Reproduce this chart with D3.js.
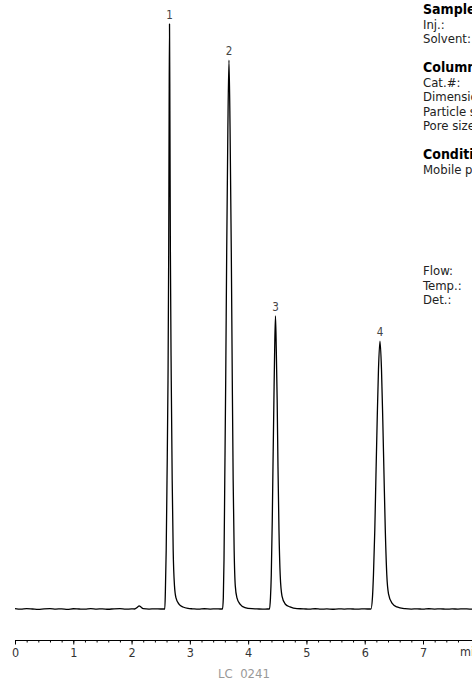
<!DOCTYPE html>
<html>
<head>
<meta charset="utf-8">
<script src="https://cdn.jsdelivr.net/npm/d3@7"></script>
<style>
  body { margin: 0; background: #fff; }
  svg { display: block; }
  text { font-family: "DejaVu Sans Condensed", "Liberation Sans Narrow", sans-serif; }
</style>
</head>
<body>
<script>
// trace: retention time (min) and detector signal (% of peak 1)
const timeMin = [
  0, 0.1, 0.2, 0.3, 0.4, 0.5, 0.6, 0.7, 0.8, 0.9, 1.0, 1.1, 1.2, 1.3, 1.4, 1.5, 1.6, 1.7, 1.8, 1.9, 2.0,
  2.05, 2.1, 2.13, 2.16, 2.2, 2.3, 2.4, 2.5, 2.55,
  2.570, 2.580, 2.594, 2.608, 2.625, 2.637, 2.644, 2.651, 2.658, 2.666, 2.681, 2.697, 2.714, 2.736, 2.762, 2.813, 2.882, 2.968,
  3.05, 3.15, 3.25, 3.35, 3.45, 3.52,
  3.560, 3.574, 3.586, 3.599, 3.615, 3.632, 3.652, 3.671, 3.690, 3.711, 3.728, 3.743, 3.760, 3.779, 3.808, 3.860, 3.945, 4.066,
  4.15, 4.25, 4.33,
  4.366, 4.383, 4.397, 4.414, 4.426, 4.442, 4.455, 4.469, 4.483, 4.498, 4.512, 4.529, 4.550, 4.581, 4.632, 4.718, 4.838,
  4.95, 5.05, 5.15, 5.25, 5.35, 5.45, 5.55, 5.65, 5.75, 5.85, 5.95, 6.05,
  6.107, 6.133, 6.150, 6.173, 6.193, 6.214, 6.236, 6.262, 6.288, 6.310, 6.331, 6.353, 6.379, 6.408, 6.468, 6.553, 6.691,
  6.8, 6.9, 7.0, 7.1, 7.2, 7.3, 7.4, 7.5, 7.6, 7.7, 7.8, 7.9
];
const signal = [
  0.06, -0.03, 0.05, 0, -0.06, 0.03, 0.07, -0.02, 0.03, -0.05, 0.04, 0, -0.03, 0.06, -0.01, 0.02, -0.04, 0.03, 0.05, -0.03, 0.01,
  0, 0.3, 0.55, 0.35, 0.05, -0.02, 0.03, 0, 0,
  0, 3, 10, 22, 39, 61, 83.6, 100, 83.6, 61, 39, 22, 10, 4, 1.9, 0.85, 0.35, 0.1,
  0.03, -0.03, 0.04, -0.01, 0.03, 0,
  0, 1.9, 8.4, 22, 39, 61, 81.9, 93.8, 81.9, 61, 39, 22, 10, 4, 1.9, 0.85, 0.25, 0.05,
  0.02, -0.03, 0,
  0, 1.9, 5.8, 15.2, 24.3, 35.7, 44.3, 50.1, 44.3, 35.7, 24.3, 13.5, 5.8, 2.2, 0.9, 0.35, 0.05,
  0.03, -0.03, 0.04, -0.02, 0.01, -0.04, 0.03, -0.01, 0.03, -0.03, 0.02, 0,
  0, 2, 5.8, 13.5, 22.9, 32.3, 40.9, 45.8, 40.9, 32.3, 22.9, 13.5, 5.8, 2.6, 1.0, 0.35, 0.05,
  -0.02, 0.03, -0.03, 0.04, -0.01, 0.03, -0.03, 0.02, -0.02, 0.03, -0.01, 0.01
];

const peakNames = ["1", "2", "3", "4"];
const peakTimes = [2.651, 3.671, 4.469, 6.262];
const peakHeights = [100, 93.8, 50.1, 45.8];

const xTicks = [0, 1, 2, 3, 4, 5, 6, 7];
const xUnit = "min";
const chartCode = "LC  0241";

// right-hand info block (runs off the edge of the page, as in the original)
const sampleLines = ["Inj.:", "Solvent:"];
const columnLines = ["Cat.#:", "Dimensions:", "Particle size:", "Pore size:"];
const conditionLines = ["Mobile phase:", "", "", "", "", "", ""];
const detectorLines = ["Flow:", "Temp.:", "Det.:"];

const width = 472, height = 684;

const x = d3.scaleLinear().domain([0, 7]).range([15, 423]);
const y = d3.scaleLinear().domain([0, 100]).range([609, 24]);

const svg = d3.select("body").append("svg")
    .attr("width", width)
    .attr("height", height);

// the trace
const trace = timeMin.map((t, i) => [t, signal[i]]);
const line = d3.line()
    .x(d => x(d[0]))
    .y(d => y(d[1]))
    .curve(d3.curveMonotoneX);

svg.append("path")
    .datum(trace)
    .attr("fill", "none")
    .attr("stroke", "#000")
    .attr("stroke-width", 1.3)
    .attr("stroke-linejoin", "round")
    .attr("d", line);

// peak numbers
svg.selectAll(".peak-label")
    .data(peakNames)
  .enter().append("text")
    .attr("class", "peak-label")
    .attr("x", (d, i) => x(peakTimes[i]))
    .attr("y", (d, i) => y(peakHeights[i]) - 5)
    .attr("text-anchor", "middle")
    .attr("font-size", 11.5)
    .attr("fill", "#444")
    .text(d => d);

// x axis: minor ticks every 0.2 min, labelled majors every minute
const axisY = 640;
const xAxisScale = x.copy().domain([0, 7.9]).range([15, x(7.9)]);

svg.append("g")
    .attr("transform", `translate(0,${axisY})`)
    .call(d3.axisBottom(xAxisScale)
      .tickValues(d3.range(0, 39).map(k => k * 0.2))
      .tickSize(2.5)
      .tickSizeOuter(0)
      .tickFormat(""))
    .call(g => g.select(".domain").attr("stroke", "#000").attr("stroke-width", 1.1))
    .call(g => g.selectAll(".tick line").attr("stroke", "#000"));

svg.append("g")
    .attr("transform", `translate(0,${axisY})`)
    .call(d3.axisBottom(xAxisScale)
      .tickValues(xTicks)
      .tickSize(4.5)
      .tickPadding(4)
      .tickFormat(d3.format("d")))
    .call(g => g.select(".domain").remove())
    .call(g => g.selectAll(".tick line").attr("stroke", "#000"))
    .call(g => g.selectAll(".tick text")
      .attr("font-family", "'DejaVu Sans Condensed', sans-serif")
      .attr("font-size", 12.5)
      .attr("fill", "#333"));

svg.append("text")
    .attr("x", 460)
    .attr("y", 655.5)
    .attr("font-size", 12.5)
    .attr("fill", "#333")
    .text(xUnit);

svg.append("text")
    .attr("x", 244)
    .attr("y", 678)
    .attr("text-anchor", "middle")
    .attr("font-size", 13)
    .attr("fill", "#999")
    .style("white-space", "pre")
    .text(chartCode);

// info block, a little wider type than the axis labels
const info = svg.append("g")
    .attr("transform", "translate(423,0)")
    .attr("font-family", "'DejaVu Sans', sans-serif")
    .attr("font-size", 13)
    .attr("fill", "#222");

const lineH = 14.5;
const blocks = [
  ["Sample", sampleLines],
  ["Column", columnLines],
  ["Conditions", conditionLines],
  [null, detectorLines]
];
let row = 0;
blocks.forEach(([title, lines]) => {
  if (title) {
    info.append("text")
        .attr("y", 14 + row * lineH)
        .attr("font-family", "'DejaVu Sans Condensed', sans-serif")
        .attr("font-size", 14)
        .attr("font-weight", "bold")
        .attr("fill", "#000")
        .text(title);
    row++;
  }
  lines.forEach(l => {
    if (l) info.append("text").attr("y", 14 + row * lineH).text(l);
    row++;
  });
  if (title && title !== "Conditions") row++;
});
</script>
</body>
</html>
